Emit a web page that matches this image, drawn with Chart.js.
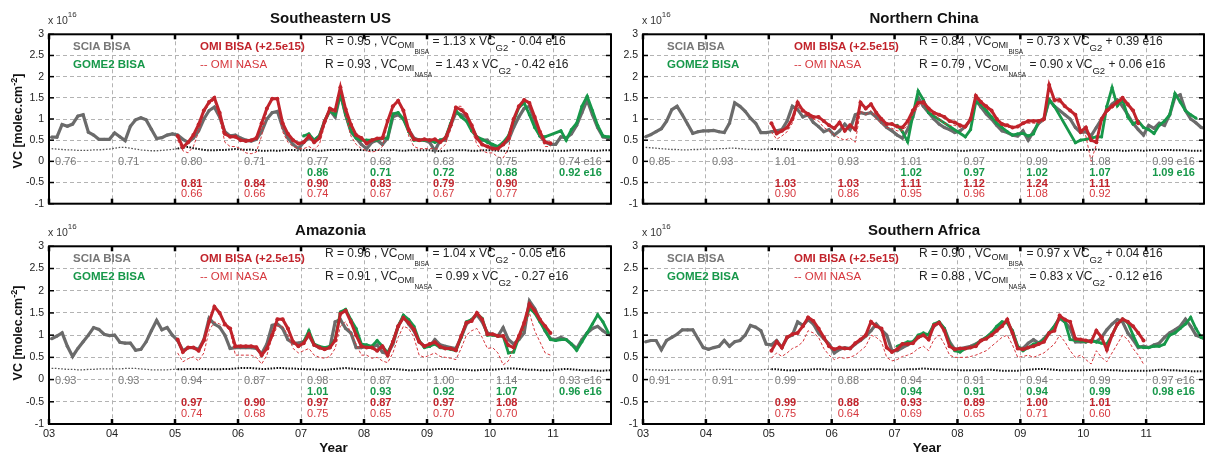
<!DOCTYPE html>
<html><head><meta charset="utf-8">
<script src="https://cdn.jsdelivr.net/npm/chart.js@4"></script>
<style>
html,body{margin:0;padding:0;background:#fff;}
body{width:1206px;height:455px;overflow:hidden;position:relative;font-family:"Liberation Sans",Arial,Helvetica,sans-serif;}
.pc{position:absolute;}
.t{position:absolute;white-space:nowrap;line-height:1;}
.s1{font-size:9px;position:relative;top:3px;}
.s2{font-size:6.5px;position:relative;top:6px;}
.s3{font-size:9.5px;position:relative;top:6px;}
</style></head><body>
<script>
// ---------- axes / tick labels ----------
const years = [2003,2004,2005,2006,2007,2008,2009,2010,2011];
const xTickLabels = ['03','04','05','06','07','08','09','10','11'];
const yTicks = [-1,-0.5,0,0.5,1,1.5,2,2.5,3];
const yTickLabels = ['-1','-0.5','0','0.5','1','1.5','2','2.5','3'];
const SCIA_START = 2003, GOME2_START = 2007, OMI_START = 2005;

// ---------- Southeastern US ----------
const sciaSE = [
0.57,0.57,0.87,0.83,0.88,1.07,1.10,0.69,0.62,0.52,0.52,0.52,
0.67,0.58,0.49,0.83,0.98,1.03,0.98,0.76,0.54,0.56,0.62,0.65,
0.62,0.52,0.45,0.55,0.72,1.00,1.20,1.28,1.05,0.70,0.60,0.62,
0.55,0.50,0.48,0.52,0.70,1.00,1.15,1.18,0.80,0.55,0.40,0.30,
0.45,0.55,0.50,0.60,0.95,1.20,1.05,1.60,1.10,0.70,0.55,0.40,
0.30,0.45,0.50,0.40,0.55,1.05,1.10,1.00,0.75,0.55,0.50,0.50,
0.45,0.25,0.50,0.50,0.85,1.15,1.10,1.05,0.80,0.55,0.50,0.50,
0.35,0.35,0.40,0.50,0.80,1.05,1.25,1.30,0.95,0.60,0.45,0.40,
0.40,0.58,0.55,0.65,0.85,1.15,1.45,1.10,0.80,0.58,0.55,0.60];
const gome2SE = [
0.60,0.65,0.50,0.60,0.95,1.20,1.10,1.60,1.10,0.72,0.55,0.50,
0.50,0.50,0.50,0.55,0.55,1.12,1.15,1.00,0.70,0.50,0.50,0.50,
0.50,0.45,0.50,0.55,0.90,1.20,1.05,0.95,0.72,0.58,0.52,0.45,
0.40,0.35,0.45,0.60,0.95,1.27,1.38,1.10,0.80,0.60,0.58,null,
null,0.72,0.50,0.75,0.90,1.30,1.54,1.20,0.85,0.60,0.58,0.58];
const omiSE = [
0.60,0.33,0.45,0.62,0.87,1.20,1.40,1.50,1.15,0.65,0.58,0.58,
0.50,0.48,0.50,0.55,0.90,1.25,1.48,1.48,0.90,0.65,0.50,0.42,
0.45,0.60,0.45,0.55,0.94,1.25,1.20,1.75,1.23,0.87,0.62,0.55,
0.42,0.50,0.54,0.55,0.95,1.30,1.43,1.20,0.75,0.52,0.50,0.52,
0.50,0.52,0.45,0.55,0.85,1.27,1.22,1.10,0.85,0.55,0.40,0.35,
0.30,0.30,0.40,0.55,1.00,1.30,1.45,1.38,1.05,0.70,0.45,0.43];
const nasaSE = [
0.50,0.25,0.20,0.35,0.70,1.15,1.35,1.45,1.00,0.45,0.35,0.35,
0.30,0.20,0.18,0.22,0.60,1.20,1.48,1.45,0.70,0.45,0.35,0.30,
0.30,0.35,0.28,0.40,0.85,1.20,1.15,1.70,1.10,0.60,0.40,0.30,
0.25,0.22,0.25,0.35,0.90,1.30,1.42,1.15,0.60,0.35,0.30,0.30,
0.30,0.30,0.28,0.40,0.75,1.30,1.30,1.15,0.75,0.40,0.25,0.20,
0.20,0.10,0.08,0.30,0.95,1.30,1.45,1.35,1.00,0.60,0.35,0.35];
const errSE = [
.30,.29,.28,.27,.27,.26,.26,.26,.27,.27,.28,.29,
.31,.33,.33,.31,.29,.27,.26,.25,.25,.26,.27,.28,
.30,.33,.34,.31,.29,.27,.26,.26,.27,.27,.28,.29,
.28,.27,.28,.26,.25,.25,.26,.25,.26,.27,.27,.26,
.26,.27,.26,.25,.26,.27,.27,.27,.28,.27,.27,.27,
.26,.26,.27,.26,.26,.27,.26,.25,.26,.26,.26,.26,
.26,.25,.24,.25,.26,.26,.26,.26,.25,.25,.26,.26,
.26,.25,.25,.24,.25,.25,.25,.26,.26,.26,.25,.25,
.25,.25,.25,.26,.26,.26,.26,.25,.25,.26,.26,.26];
const statSciaSE = ['0.76','0.71','0.80','0.71','0.77','0.63','0.63','0.75','0.74 e16'];
const statGomeSE = ['0.86','0.71','0.72','0.88','0.92 e16'];
const statOmiSE  = ['0.81','0.84','0.90','0.83','0.79','0.90'];
const statNasaSE = ['0.66','0.66','0.74','0.67','0.67','0.77'];
const eqSE = ['0.95','1.13','- 0.04','0.93','1.43','- 0.42'];

// ---------- Northern China ----------
const sciaNC = [
0.58,0.63,0.70,0.77,0.95,1.22,1.30,1.10,0.88,0.66,0.70,0.72,
0.72,0.73,0.70,0.68,0.90,1.38,1.30,1.18,1.02,0.90,0.68,0.68,
0.70,0.72,0.75,0.95,1.30,1.22,1.05,1.10,0.92,0.82,0.70,0.75,
0.62,0.72,0.88,0.75,1.10,1.15,1.12,1.15,1.05,0.92,0.80,0.72,
0.62,0.55,0.75,1.05,1.50,1.30,1.15,1.00,0.88,0.80,0.75,0.68,
0.72,0.82,0.98,1.45,1.28,1.12,1.00,0.85,0.72,0.68,0.62,0.60,
0.72,0.50,0.70,0.90,1.00,1.45,1.30,1.20,1.10,1.00,0.80,0.68,
0.70,0.60,0.80,1.00,1.20,1.35,1.45,1.30,1.10,0.90,0.75,0.62,
0.85,0.78,0.90,0.85,1.10,1.52,1.57,1.20,1.00,0.91,0.80,0.77];
const gome2NC = [
0.85,0.70,0.46,1.10,1.66,1.45,1.15,null,null,null,null,null,
null,0.58,0.75,1.40,1.35,1.20,1.05,0.90,0.80,0.70,0.62,0.65,
0.66,0.60,0.65,0.95,1.00,1.46,1.30,null,null,null,0.44,0.50,
0.52,0.55,0.58,0.58,1.30,1.74,1.31,1.46,1.05,0.88,0.95,0.80,
0.75,0.66,0.85,0.95,1.10,1.60,1.40,1.20,1.10,1.02,null,null];
const omiNC = [
0.90,0.66,0.72,0.80,1.00,1.39,1.20,1.12,1.05,1.05,0.95,0.85,
0.78,0.92,0.72,0.85,0.75,1.39,1.25,1.35,1.15,1.00,0.88,0.88,
0.82,0.80,0.95,1.20,1.38,1.40,1.25,1.15,1.10,1.05,0.95,0.92,
0.85,0.82,1.00,1.55,1.40,1.30,1.20,1.00,0.88,0.85,0.80,0.82,
0.90,0.95,0.95,0.95,1.00,1.80,1.45,1.45,1.30,1.20,1.10,0.70,
0.80,0.50,0.45,1.00,1.20,1.30,1.40,1.50,1.35,1.20,0.90,null];
const nasaNC = [
0.70,0.52,0.60,0.70,0.90,1.30,1.15,1.05,1.00,0.95,0.80,0.72,
0.62,0.55,0.50,0.55,0.45,1.20,1.10,1.20,1.00,0.90,0.80,0.78,
0.72,0.72,0.85,1.10,1.30,1.35,1.20,1.10,1.00,0.90,0.85,0.85,
0.80,0.78,0.95,1.50,1.35,1.25,1.15,0.95,0.85,0.80,0.80,0.82,
0.88,0.90,0.90,0.90,0.95,1.75,1.40,1.40,1.30,1.20,1.05,0.75,
0.60,0.00,0.40,0.95,1.15,1.25,1.35,1.45,1.30,1.15,0.85,null];
const errNC = [
.33,.32,.31,.30,.29,.28,.28,.27,.27,.28,.28,.29,
.29,.29,.30,.30,.31,.31,.30,.29,.28,.28,.28,.29,
.29,.29,.28,.28,.27,.27,.26,.26,.26,.26,.27,.27,
.27,.27,.27,.26,.26,.27,.27,.27,.27,.27,.26,.26,
.26,.26,.26,.27,.27,.27,.28,.27,.27,.26,.26,.26,
.25,.25,.26,.26,.26,.26,.27,.26,.26,.26,.26,.26,
.26,.26,.26,.26,.27,.26,.26,.25,.26,.26,.26,.27,
.27,.27,.28,.27,.26,.26,.26,.25,.25,.26,.26,.25,
.26,.26,.27,.27,.27,.26,.26,.26,.25,.25,.25,.25];
const statSciaNC = ['0.85','0.93','1.01','0.93','1.01','0.97','0.99','1.08','0.99 e16'];
const statGomeNC = ['1.02','0.97','1.02','1.07','1.09 e16'];
const statOmiNC  = ['1.03','1.03','1.11','1.12','1.24','1.11'];
const statNasaNC = ['0.90','0.86','0.95','0.96','1.08','0.92'];
const eqNC = ['0.84','0.73','+ 0.39','0.79','0.90','+ 0.06'];

// ---------- Amazonia ----------
const sciaAM = [
0.92,0.98,1.05,0.75,0.52,0.70,0.85,1.00,1.17,1.13,1.02,0.99,
1.00,0.84,0.82,0.82,0.66,0.68,0.85,1.10,1.33,1.12,1.17,1.00,
0.88,0.65,0.72,0.72,0.68,0.90,1.38,1.25,1.18,1.00,0.70,0.72,
0.72,0.72,0.72,0.70,0.58,0.80,1.22,1.25,1.15,0.90,0.82,0.82,
0.85,1.00,0.78,0.72,0.70,0.72,1.30,1.35,1.15,1.05,0.72,0.72,
0.75,0.72,0.78,0.62,0.58,0.80,1.20,1.42,1.25,1.10,0.85,0.75,
0.75,0.90,0.78,0.75,0.72,0.70,0.95,1.25,1.35,1.46,1.30,1.05,
1.02,0.98,1.17,0.90,0.80,0.90,1.05,1.77,1.60,1.35,1.10,0.92,
0.90,0.95,0.90,0.80,0.70,0.90,1.05,1.15,1.20,1.10,1.02,0.98];
const gome2AM = [
0.85,1.10,0.80,0.75,0.72,0.75,0.90,1.52,1.58,1.35,1.15,0.80,
0.78,0.75,0.88,0.75,0.60,0.85,1.20,1.45,1.35,1.20,0.88,0.72,
0.75,0.80,0.72,0.70,0.68,0.65,0.95,1.30,1.35,1.48,1.38,1.00,
1.00,0.98,0.98,0.60,0.62,0.95,1.25,1.60,1.50,1.30,1.10,0.90,
0.88,0.90,0.90,0.80,0.66,0.85,1.05,1.25,1.46,1.30,1.06,null];
const omiAM = [
0.90,0.62,0.72,0.72,0.65,0.88,1.30,1.64,1.50,1.25,1.15,0.75,
0.75,0.75,0.75,0.73,0.55,0.70,1.00,1.36,1.36,1.15,0.85,0.75,
0.82,1.02,0.78,0.72,0.68,0.72,0.88,1.48,1.55,1.30,1.00,0.75,
0.72,0.72,0.65,0.75,0.55,0.85,1.20,1.39,1.28,1.13,0.85,0.75,
0.80,0.84,0.74,0.70,0.70,0.66,0.98,1.28,1.32,1.50,1.35,1.02,
1.02,0.98,0.98,0.77,0.72,0.98,1.28,1.70,1.55,1.35,1.20,1.05];
const nasaAM = [
0.60,0.40,0.47,0.51,0.42,0.60,1.10,1.30,1.25,1.20,1.10,0.55,
0.55,0.55,0.55,0.50,0.35,0.55,0.95,1.20,1.20,1.00,0.70,0.60,
0.65,0.70,0.55,0.50,0.48,0.52,0.70,1.20,1.30,1.05,0.80,0.55,
0.55,0.48,0.50,0.42,0.38,0.60,0.95,1.20,1.15,0.95,0.55,0.50,
0.55,0.60,0.52,0.50,0.48,0.45,0.70,1.00,1.10,1.15,0.95,0.70,
0.72,0.60,0.33,0.42,0.72,0.90,1.15,1.50,1.10,0.85,0.60,0.55];
const errAM = [
.25,.25,.24,.23,.23,.22,.22,.23,.23,.24,.24,.24,
.24,.24,.25,.25,.25,.24,.23,.22,.22,.22,.22,.23,
.23,.23,.24,.24,.24,.24,.23,.23,.23,.24,.24,.25,
.26,.26,.26,.25,.24,.24,.25,.26,.26,.25,.25,.24,
.24,.23,.23,.22,.22,.23,.24,.25,.26,.25,.24,.23,
.22,.22,.23,.23,.24,.24,.23,.22,.21,.21,.22,.22,
.22,.23,.24,.24,.24,.23,.22,.22,.21,.21,.22,.22,
.22,.23,.24,.25,.25,.24,.23,.22,.22,.21,.21,.21,
.22,.23,.24,.23,.22,.21,.21,.21,.20,.20,.21,.21];
const statSciaAM = ['0.93','0.93','0.94','0.87','0.98','0.87','1.00','1.14','0.93 e16'];
const statGomeAM = ['1.01','0.93','0.92','1.07','0.96 e16'];
const statOmiAM  = ['0.97','0.90','0.97','0.87','0.97','1.08'];
const statNasaAM = ['0.74','0.68','0.75','0.65','0.70','0.70'];
const eqAM = ['0.96','1.04','- 0.05','0.91','0.99','- 0.27'];

// ---------- Southern Africa ----------
const sciaSA = [
0.85,0.88,0.88,0.67,0.88,0.95,1.02,1.12,1.12,1.12,0.92,0.72,
0.68,0.72,0.75,0.88,0.75,0.85,0.88,1.00,1.22,1.18,1.10,0.80,
0.78,0.88,0.72,0.95,1.00,1.30,1.22,1.35,1.25,1.05,0.92,0.80,
0.60,0.68,0.72,0.70,0.80,0.88,0.98,1.10,1.25,1.12,1.00,0.65,
0.65,0.72,0.78,0.85,0.95,1.00,1.02,1.20,1.28,1.15,0.85,0.68,
0.70,0.72,0.75,0.80,0.88,0.95,1.05,1.15,1.25,1.30,1.05,0.72,
0.70,0.82,0.90,0.82,0.92,1.05,1.20,1.38,1.30,1.15,0.85,0.85,
0.85,0.88,0.85,0.95,1.12,1.25,1.35,1.30,1.05,0.90,0.72,0.75,
0.72,0.78,0.82,0.95,1.05,1.12,1.20,1.36,1.20,1.00,0.95,0.90];
const gome2SA = [
0.75,0.80,0.85,0.85,1.00,1.05,1.00,1.25,1.30,1.15,0.80,0.65,
0.62,0.70,0.72,0.78,0.88,0.95,1.05,1.20,1.30,1.28,1.10,0.75,
0.65,0.72,0.80,0.82,0.90,1.05,1.20,1.40,1.30,0.90,0.88,0.87,
0.85,0.87,0.85,0.82,0.80,1.00,1.25,1.36,1.28,1.00,0.75,0.72,
0.72,0.75,0.75,0.80,1.00,1.05,1.15,1.25,1.40,1.15,0.95,0.90];
const omiSA = [
0.65,0.85,0.72,0.95,1.02,1.05,1.20,1.40,1.32,1.15,0.95,0.75,
0.68,0.72,0.70,0.70,0.82,0.90,1.00,1.30,1.20,1.15,0.72,0.62,
0.68,0.80,0.80,0.82,0.95,1.00,0.90,1.22,1.28,1.10,0.75,0.68,
0.70,0.70,0.72,0.75,0.88,0.92,1.00,1.10,1.20,1.35,1.05,0.70,
0.68,0.72,0.75,0.80,0.85,1.05,1.10,1.44,1.35,1.30,0.92,0.90,
0.88,0.85,1.10,0.95,0.67,1.00,1.25,1.36,1.30,1.20,1.05,0.88];
const nasaSA = [
0.48,0.60,0.52,0.60,0.70,0.75,0.85,1.10,1.05,0.95,0.70,0.55,
0.45,0.50,0.48,0.50,0.55,0.65,0.75,1.00,0.95,0.85,0.50,0.42,
0.45,0.52,0.55,0.60,0.70,0.75,0.65,0.90,1.00,0.80,0.55,0.50,
0.50,0.50,0.52,0.55,0.60,0.65,0.75,0.85,0.95,1.00,0.78,0.50,
0.52,0.55,0.50,0.55,0.60,0.70,0.80,1.00,0.85,0.65,0.50,0.55,
0.45,0.35,0.65,0.50,0.40,0.60,0.80,1.00,0.90,0.70,0.55,0.35];
const errSA = [
.23,.22,.22,.21,.21,.21,.22,.22,.22,.22,.22,.22,
.22,.22,.23,.23,.23,.22,.22,.22,.22,.22,.22,.23,
.23,.23,.22,.21,.21,.21,.22,.22,.23,.23,.23,.22,
.22,.22,.22,.22,.22,.22,.22,.23,.23,.23,.22,.22,
.22,.22,.23,.23,.24,.25,.24,.23,.23,.22,.22,.22,
.21,.21,.21,.21,.21,.22,.22,.21,.20,.20,.20,.20,
.21,.22,.23,.24,.24,.23,.22,.21,.21,.21,.21,.21,
.21,.22,.22,.22,.22,.21,.21,.20,.20,.20,.20,.20,
.20,.21,.22,.22,.21,.21,.20,.20,.19,.19,.19,.19];
const statSciaSA = ['0.91','0.91','0.99','0.88','0.94','0.91','0.94','0.99','0.97 e16'];
const statGomeSA = ['0.94','0.91','0.94','0.99','0.98 e16'];
const statOmiSA  = ['0.99','0.88','0.93','0.89','1.00','1.01'];
const statNasaSA = ['0.75','0.64','0.69','0.65','0.71','0.60'];
const eqSA = ['0.90','0.97','+ 0.04','0.88','0.83','- 0.12'];

// ---------- styles ----------
const FONT = '"Liberation Sans", Arial, Helvetica, sans-serif';
const C_GRAY = '#6b6b6b', C_GREEN = '#17984a', C_RED = '#c1232b', C_NASA = '#d6373d';
const C_GRID = '#b3b3b3';

const panels = [
 {title:'Southeastern US', L:49, R:612, T:29, B:212, bottom:false, ylab:true,
  scia:sciaSE, gome2:gome2SE, omi:omiSE, nasa:nasaSE, err:errSE,
  st:[statSciaSE,statGomeSE,statOmiSE,statNasaSE], eq:eqSE},
 {title:'Northern China', L:643, R:1205, T:29, B:212, bottom:false, ylab:false,
  scia:sciaNC, gome2:gome2NC, omi:omiNC, nasa:nasaNC, err:errNC,
  st:[statSciaNC,statGomeNC,statOmiNC,statNasaNC], eq:eqNC},
 {title:'Amazonia', L:49, R:612, T:241, B:424, bottom:true, ylab:true,
  scia:sciaAM, gome2:gome2AM, omi:omiAM, nasa:nasaAM, err:errAM,
  st:[statSciaAM,statGomeAM,statOmiAM,statNasaAM], eq:eqAM},
 {title:'Southern Africa', L:643, R:1205, T:241, B:424, bottom:true, ylab:false,
  scia:sciaSA, gome2:gome2SA, omi:omiSA, nasa:nasaSA, err:errSA,
  st:[statSciaSA,statGomeSA,statOmiSA,statNasaSA], eq:eqSA}
];

function toPts(arr, start){ return arr.map((v,i)=>({x:start+(i+0.5)/12, y:v})); }

function txt(html, x, y, css, center){
  const d = document.createElement('div');
  d.className = 't';
  d.innerHTML = html;
  d.style.cssText += 'left:'+x+'px;top:'+y+'px;transform:translate('+(center?'-50%':'0')+',-50%);'+(css||'');
  document.body.appendChild(d);
  return d;
}

const framePlugin = {
  id:'frame',
  afterDraw(chart){
    const {ctx, chartArea:a, scales:{x, y}} = chart;
    ctx.save();
    ctx.setLineDash([]);
    ctx.strokeStyle = '#000';
    const ln = (x1,y1,x2,y2)=>{ctx.beginPath();ctx.moveTo(x1,y1);ctx.lineTo(x2,y2);ctx.stroke();};
    ctx.lineWidth = 2.5;
    years.forEach(v=>{ const px = x.getPixelForValue(v); ln(px,a.top,px,a.top+5); ln(px,a.bottom,px,a.bottom-5); });
    ctx.lineWidth = 1.5;
    yTicks.forEach(v=>{ const py = y.getPixelForValue(v); ln(a.left,py,a.left+5,py); ln(a.right,py,a.right-5,py); });
    ctx.lineWidth = 2;
    ctx.strokeRect(a.left, a.top, a.right-a.left, a.bottom-a.top);
    ctx.restore();
  }
};

panels.forEach(p=>{
  const yW = 40, padT = 6, padR = 3;
  const xH = p.bottom ? 22 : 3;
  const W = p.R - p.L + yW + padR, H = p.B - p.T + padT + xH;
  const offX = p.L - yW, offY = p.T - padT;
  const wrap = document.createElement('div');
  wrap.className = 'pc';
  wrap.style.left = offX+'px'; wrap.style.top = offY+'px';
  wrap.style.width = W+'px'; wrap.style.height = H+'px';
  const cv = document.createElement('canvas');
  cv.width = W; cv.height = H; cv.style.width = W+'px'; cv.style.height = H+'px';
  wrap.appendChild(cv); document.body.appendChild(wrap);

  const errPre = p.err.slice(0, 25), errPost = p.err.slice(24);
  const chart = new Chart(cv, {
    type:'line',
    data:{datasets:[
      {label:'OMI BISA (+2.5e15)', data:toPts(p.omi, OMI_START), borderColor:C_RED, backgroundColor:C_RED,
       borderWidth:3, pointRadius:2, pointBorderWidth:0, pointBackgroundColor:C_RED, order:1},
      {label:'OMI NASA', data:toPts(p.nasa, OMI_START), borderColor:C_NASA, borderWidth:1, borderDash:[3,2],
       pointRadius:0, order:2},
      {label:'GOME2 BISA', data:toPts(p.gome2, GOME2_START), borderColor:C_GREEN, backgroundColor:C_GREEN,
       borderWidth:2.8, pointRadius:1.6, pointBorderWidth:0, spanGaps:true, order:3},
      {label:'SCIA BISA', data:toPts(p.scia, SCIA_START), borderColor:C_GRAY, backgroundColor:C_GRAY,
       borderWidth:3.2, pointRadius:1.6, pointBorderWidth:0, order:4},
      {label:'err2', data:toPts(errPost, OMI_START), borderColor:'#111', borderWidth:2, borderDash:[1.6,1.4],
       pointRadius:0, order:5},
      {label:'err', data:toPts(errPre, SCIA_START), borderColor:'#555', borderWidth:1.3, borderDash:[1.6,1.6],
       pointRadius:0, order:6}
    ]},
    options:{
      responsive:false, animation:false, events:[],
      layout:{padding:{top:padT, right:padR, left:0, bottom:0}},
      plugins:{legend:{display:false}, tooltip:{enabled:false}},
      elements:{line:{tension:0}},
      scales:{
        x:{type:'linear', min:2003, max:2011.92,
           afterBuildTicks:s=>{ s.ticks = years.map(v=>({value:v})); },
           afterFit:s=>{ s.height = xH; },
           ticks:{display:p.bottom, autoSkip:false, maxRotation:0, padding:3, color:'#222',
                  font:{family:FONT, size:11}, callback:v=>xTickLabels[years.indexOf(v)]},
           grid:{color:C_GRID, lineWidth:1, drawTicks:false},
           border:{display:false, dash:[4,3]}},
        y:{min:-1, max:3,
           afterBuildTicks:s=>{ s.ticks = yTicks.map(v=>({value:v})); },
           afterFit:s=>{ s.width = yW; },
           ticks:{padding:5, color:'#222', font:{family:FONT, size:10.5},
                  callback:v=>yTickLabels[yTicks.indexOf(v)]},
           grid:{color:C_GRID, lineWidth:1, drawTicks:false},
           border:{display:false, dash:[4,3]}}
      }
    },
    plugins:[framePlugin]
  });

  // ----- texts -----
  const xs = chart.scales.x, ys = chart.scales.y;
  const L = p.L, T = p.T, cx = (p.L + p.R)/2;
  txt(p.title, cx, T-12, 'font-weight:bold;font-size:15px;color:#111;', true);
  txt('x 10<sup style="font-size:8px;position:relative;top:-2px;">16</sup>', L-1, T-10, 'font-size:10.5px;color:#333;', false);
  if (p.ylab) {
    txt('VC [molec.cm<sup style="font-size:9px;">-2</sup>]', 17, (p.T+p.B)/2,
        'font-weight:bold;font-size:12.5px;color:#111;transform:translate(-50%,-50%) rotate(-90deg);', true);
  }
  if (p.bottom) {
    txt('Year', cx+3, 448, 'font-weight:bold;font-size:13.5px;color:#111;', true);
  }
  txt('SCIA BISA', L+24, T+18, 'font-weight:bold;font-size:11.5px;color:#777;', false);
  txt('GOME2 BISA', L+24, T+36, 'font-weight:bold;font-size:11.5px;color:'+C_GREEN+';', false);
  txt('OMI BISA (+2.5e15)', L+151, T+18, 'font-weight:bold;font-size:11.5px;color:'+C_RED+';', false);
  txt('-- OMI NASA', L+151, T+36, 'font-size:11.5px;color:'+C_NASA+';', false);
  const e = p.eq;
  txt('R = '+e[0]+' , VC<span class="s1">OMI<span class="s2">BISA</span></span> = '+e[1]+' x VC<span class="s3">G2</span> '+e[2]+' e16',
      L+276, T+12, 'font-size:12px;color:#222;', false);
  txt('R = '+e[3]+' , VC<span class="s1">OMI<span class="s2">NASA</span></span> = '+e[4]+' x VC<span class="s3">G2</span> '+e[5]+' e16',
      L+276, T+35, 'font-size:12px;color:#222;', false);

  const rows = [
    {vals:p.st[0], start:0, v:0,     css:'font-size:11px;color:#7a7a7a;'},
    {vals:p.st[1], start:4, v:-0.25, css:'font-size:11px;font-weight:bold;color:'+C_GREEN+';'},
    {vals:p.st[2], start:2, v:-0.5,  css:'font-size:11px;font-weight:bold;color:'+C_RED+';'},
    {vals:p.st[3], start:2, v:-0.75, css:'font-size:11px;color:'+C_NASA+';'}
  ];
  rows.forEach(r=>{
    r.vals.forEach((s,i)=>{
      const yr = years[r.start+i];
      txt(s, offX + xs.getPixelForValue(yr) + 6, offY + ys.getPixelForValue(r.v), r.css, false);
    });
  });
});
</script>
</body></html>
